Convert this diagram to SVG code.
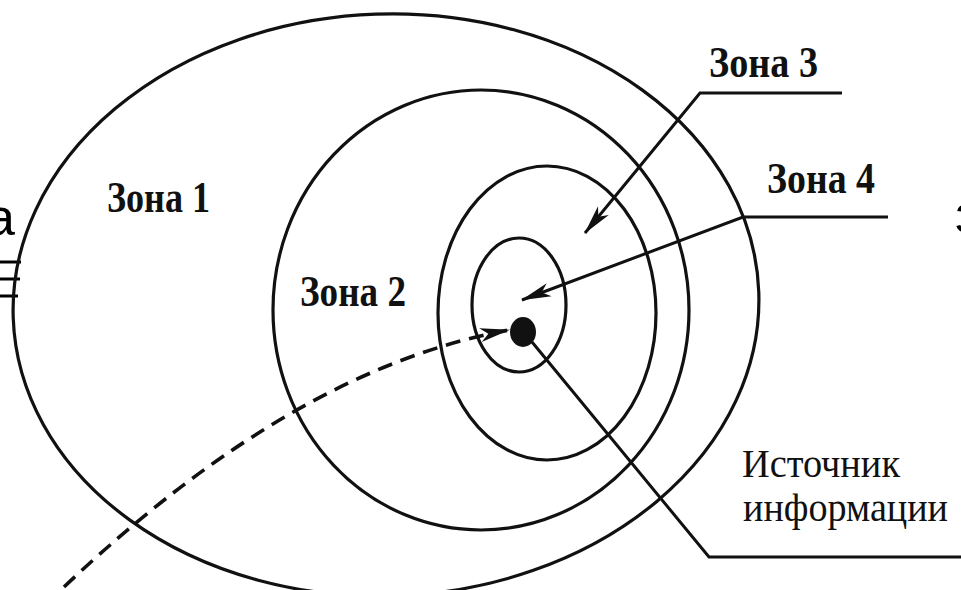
<svg xmlns="http://www.w3.org/2000/svg" width="961" height="590" viewBox="0 0 961 590">
  <style>
    .ring { fill: none; stroke: #111; stroke-width: 3.2; }
    .lead { fill: none; stroke: #111; stroke-width: 3; }
    .dash { fill: none; stroke: #111; stroke-width: 3.6; stroke-dasharray: 15 9; }
    .zl { font-family: "Liberation Serif", "Times New Roman", serif; font-weight: bold; font-size: 45px; fill: #111; }
    .sl { font-family: "Liberation Serif", "Times New Roman", serif; font-size: 40px; fill: #111; }
    .frag { font-family: "Liberation Sans", Arial, sans-serif; font-size: 52px; fill: #000; }
  </style>
  <defs>
    <marker id="arr" markerUnits="userSpaceOnUse" markerWidth="30" markerHeight="16" viewBox="0 0 30 16" refX="29" refY="8" orient="auto">
      <path d="M0,1 L30,8 L0,15 L8,8 z" fill="#111"/>
    </marker>
  </defs>
  <rect width="961" height="590" fill="#fff"/>

  <g id="page-fragments">
    <text class="frag" x="-14" y="235">а</text>
    <path d="M0,262 H21 M0,279 H20 M0,296 H18" stroke="#000" stroke-width="3"/>
    <text class="frag" x="955" y="232">з</text>
  </g>

  <g id="zone1">
    <ellipse class="ring" cx="386" cy="305" rx="373" ry="291" transform="rotate(-2 386 305)"/>
    <text class="zl" x="107" y="212" textLength="103" lengthAdjust="spacingAndGlyphs">Зона 1</text>
  </g>
  <g id="zone2">
    <ellipse class="ring" cx="481" cy="310" rx="208" ry="220"/>
    <text class="zl" x="300" y="306" textLength="106" lengthAdjust="spacingAndGlyphs">Зона 2</text>
  </g>
  <g id="zone3">
    <ellipse class="ring" cx="547" cy="313" rx="109" ry="147"/>
    <text class="zl" x="709" y="77" textLength="109" lengthAdjust="spacingAndGlyphs">Зона 3</text>
  </g>
  <g id="zone4">
    <ellipse class="ring" cx="519" cy="305" rx="47" ry="67"/>
    <text class="zl" x="767" y="193" textLength="108" lengthAdjust="spacingAndGlyphs">Зона 4</text>
  </g>
  <g id="source">
    <ellipse cx="523" cy="332" rx="13" ry="15" fill="#111"/>
    <text class="sl" x="742" y="477" textLength="158" lengthAdjust="spacingAndGlyphs">Источник</text>
    <text class="sl" x="743" y="521" textLength="205" lengthAdjust="spacingAndGlyphs">информации</text>
  </g>

  <g id="connectors">
    <path class="lead" d="M842,93 L700,93 L585,233" marker-end="url(#arr)"/>
    <path class="lead" d="M888,217 L743,217 L522,300" marker-end="url(#arr)"/>
    <path class="lead" d="M532,342 L709,557 L961,557"/>
    <path class="dash" d="M64,587 Q294,369 509,330" marker-end="url(#arr)"/>
  </g>
</svg>
